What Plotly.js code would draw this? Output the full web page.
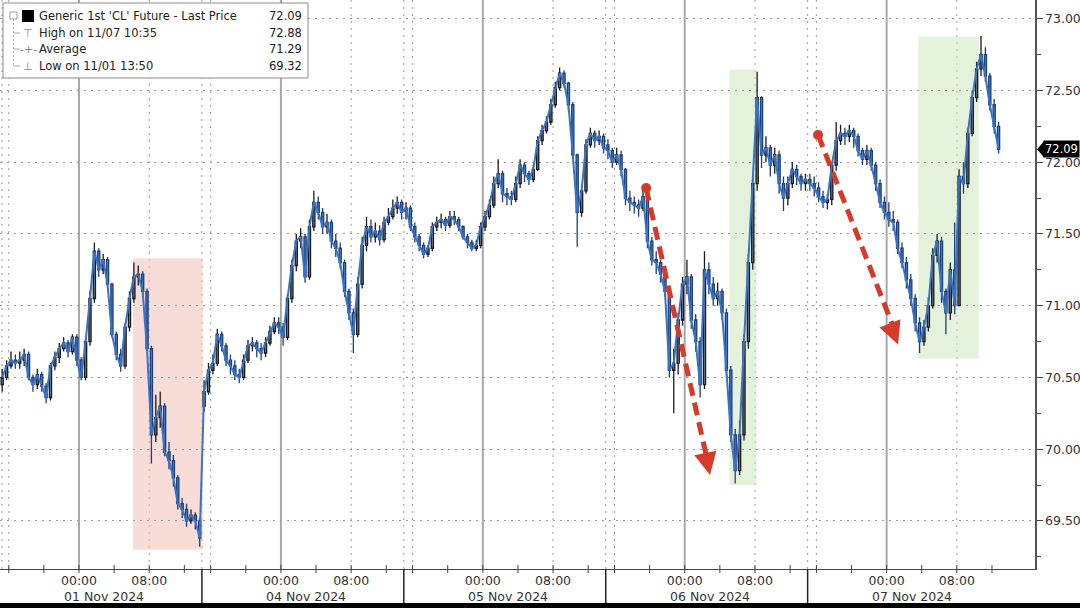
<!DOCTYPE html>
<html><head><meta charset="utf-8">
<script src="https://cdn.plot.ly/plotly-3.0.1.min.js"></script>
<style>html,body{margin:0;padding:0;background:#fff;}#chart{width:1080px;height:608px;}</style>
</head><body><div id="chart"></div>
<script>
// ---- data (30-minute bars, each trading session 15:00 -> 14:00, 23 hours) ----
const sessionDates = ['01 Nov 2024','04 Nov 2024','05 Nov 2024','06 Nov 2024','07 Nov 2024'];
const sessionOpen = [70.45, 70.30, 71.66, 72.12, 71.88];
const timeTickLabels = ['00:00','08:00'];

const close1 = [70.50,70.58,70.62,70.60,70.62,70.66,70.50,70.45,70.52,70.44,70.36,70.58,70.64,70.70,70.74,70.68,70.78,70.62,70.50,70.75,71.05,71.38,71.25,71.32,71.15,70.80,70.66,70.58,70.85,71.05,71.20,71.22,71.10,70.70,70.10,70.22,70.30,69.98,69.92,69.80,69.62,69.58,69.50,69.54,69.50,69.38];
const high1  = [70.56,70.62,70.68,70.66,70.68,70.70,70.68,70.52,70.56,70.54,70.46,70.60,70.68,70.74,70.78,70.76,70.80,70.80,70.64,70.78,71.10,71.44,71.40,71.36,71.34,71.16,70.82,70.70,70.88,71.10,71.30,71.28,71.24,71.12,70.72,70.38,70.40,70.32,70.05,69.96,69.82,69.66,69.62,69.58,69.56,69.52];
const low1   = [70.40,70.48,70.56,70.56,70.56,70.58,70.48,70.40,70.42,70.40,70.32,70.34,70.55,70.60,70.68,70.64,70.66,70.58,70.48,70.48,70.72,71.02,71.20,71.22,71.12,70.78,70.62,70.54,70.56,70.82,71.02,71.14,71.06,70.68,69.90,70.05,70.15,69.95,69.86,69.74,69.58,69.52,69.46,69.48,69.44,69.32];

const close2 = [70.40,70.55,70.60,70.80,70.72,70.62,70.58,70.52,70.50,70.62,70.72,70.74,70.70,70.67,70.74,70.82,70.88,70.85,70.78,71.05,71.28,71.45,71.48,71.20,71.55,71.72,71.65,71.55,71.58,71.45,71.40,71.30,71.10,70.95,70.80,71.15,71.42,71.55,71.48,71.52,71.46,71.58,71.62,71.68,71.72,71.65];
const high2  = [70.48,70.60,70.66,70.84,70.82,70.74,70.66,70.62,70.56,70.66,70.76,70.78,70.76,70.74,70.78,70.86,70.92,70.92,70.88,71.08,71.32,71.50,71.54,71.50,71.60,71.80,71.76,71.68,71.64,71.60,71.50,71.44,71.32,71.12,70.98,71.20,71.48,71.62,71.60,71.58,71.56,71.62,71.68,71.74,71.76,71.74];
const low2   = [70.26,70.38,70.52,70.58,70.68,70.58,70.52,70.48,70.46,70.48,70.60,70.68,70.64,70.62,70.64,70.72,70.80,70.80,70.72,70.76,71.02,71.24,71.40,71.16,71.18,71.52,71.60,71.50,71.50,71.40,71.34,71.26,71.06,70.90,70.67,70.78,71.12,71.38,71.44,71.44,71.42,71.44,71.56,71.60,71.64,71.60];

const close3 = [71.68,71.55,71.48,71.42,71.36,71.40,71.55,71.58,71.60,71.56,71.62,71.60,71.55,71.48,71.44,71.40,71.42,71.55,71.62,71.70,71.85,71.92,71.78,71.76,71.74,71.85,71.98,71.92,71.88,71.95,72.15,72.22,72.28,72.40,72.52,72.62,72.55,72.40,72.05,71.65,71.80,72.12,72.20,72.15,72.18,72.10];
const high3  = [71.72,71.70,71.58,71.50,71.44,71.42,71.58,71.62,71.64,71.62,71.66,71.66,71.62,71.56,71.50,71.46,71.46,71.58,71.66,71.74,71.90,72.02,71.94,71.82,71.80,71.90,72.02,72.00,71.94,71.98,72.18,72.26,72.32,72.44,72.56,72.66,72.64,72.56,72.42,72.06,71.84,72.16,72.24,72.22,72.22,72.20];
const low3   = [71.60,71.52,71.44,71.38,71.33,71.34,71.38,71.52,71.54,71.52,71.54,71.56,71.52,71.46,71.40,71.38,71.38,71.40,71.52,71.60,71.68,71.82,71.72,71.70,71.70,71.72,71.82,71.86,71.84,71.86,71.94,72.12,72.20,72.26,72.38,72.50,72.52,72.36,72.02,71.41,71.62,71.78,72.10,72.10,72.12,72.06];

const close4 = [72.08,72.00,72.05,71.95,71.75,71.72,71.70,71.68,71.76,71.45,71.32,71.30,71.22,71.10,70.55,70.60,70.90,71.15,71.20,70.90,70.75,70.45,71.25,71.15,71.05,71.10,70.95,70.55,70.10,69.85,70.10,70.75,71.30,71.85,72.45,72.05,72.10,71.98,72.05,71.85,71.75,71.85,71.95,71.90,71.85,71.88];
const high4  = [72.16,72.10,72.10,72.08,71.96,71.80,71.76,71.74,71.80,71.78,71.48,71.38,71.32,71.24,71.12,70.70,70.95,71.20,71.32,71.22,70.94,70.78,71.38,71.30,71.20,71.16,71.12,70.98,70.58,70.14,70.20,70.80,71.36,71.90,72.63,72.46,72.18,72.12,72.10,72.08,71.90,71.90,72.00,71.98,71.92,71.92];
const low4   = [72.02,71.96,71.98,71.90,71.70,71.66,71.64,71.62,71.66,71.40,71.28,71.22,71.16,71.06,70.50,70.25,70.52,70.86,71.08,70.84,70.68,70.36,70.42,71.08,71.00,71.00,70.90,70.50,70.05,69.76,69.82,70.06,70.70,71.25,71.80,71.96,72.00,71.90,71.92,71.78,71.66,71.70,71.82,71.84,71.80,71.80];

const close5 = [71.85,71.82,71.76,71.72,71.74,71.98,72.15,72.20,72.18,72.22,72.18,72.08,72.02,72.08,71.98,71.85,71.72,71.65,71.60,71.58,71.40,71.30,71.18,71.05,70.88,70.75,70.85,71.00,71.35,71.45,71.10,70.95,71.25,71.00,71.90,71.85,72.20,72.45,72.65,72.75,72.60,72.40,72.25,72.09];
const high5  = [71.92,71.90,71.86,71.80,71.78,72.00,72.28,72.26,72.24,72.26,72.24,72.20,72.10,72.12,72.10,72.00,71.88,71.76,71.72,71.66,71.60,71.44,71.34,71.22,71.08,70.92,70.90,71.06,71.40,71.50,71.48,71.12,71.30,71.58,71.95,72.00,72.24,72.50,72.70,72.88,72.80,72.62,72.44,72.28];
const low5   = [71.80,71.76,71.72,71.68,71.67,71.70,71.94,72.12,72.12,72.14,72.10,72.04,71.98,71.98,71.94,71.80,71.68,71.60,71.55,71.52,71.36,71.26,71.12,71.00,70.82,70.67,70.72,70.82,70.98,71.30,71.02,70.80,70.90,70.94,71.00,71.78,71.82,72.18,72.42,72.60,72.56,72.36,72.20,72.06];

const legendLabels = ["Generic 1st 'CL' Future - Last Price", "High on 11/07 10:35", "Average", "Low on 11/01 13:50"];
const legendValues = ["72.09", "72.88", "71.29", "69.32"];
const lastPrice = 72.09;

// ---- build series ----
const SESSION_H = 23, BAR_H = 0.5;
const sessions = [[close1,high1,low1],[close2,high2,low2],[close3,high3,low3],[close4,high4,low4],[close5,high5,low5]];
const X=[],O=[],H=[],L=[],C=[];
sessions.forEach((s,k)=>{
  s[0].forEach((c,i)=>{
    X.push(SESSION_H*k + BAR_H*i + BAR_H/2);
    O.push(i===0 ? sessionOpen[k] : s[0][i-1]);
    H.push(s[1][i]); L.push(s[2][i]); C.push(c);
  });
});

const PW = 1035, PH = 569; // plot area pixels
const px = v => v/PW, py = v => 1 - v/PH;
const FONT = 'DejaVu Sans';

const shapes = [];
const annotations = [];

// highlight boxes
shapes.push({type:'rect',xref:'x',yref:'y',x0:15.15,x1:23.1,y0:69.30,y1:71.33,fillcolor:'rgba(242,196,188,0.6)',line:{width:0},layer:'below'});
shapes.push({type:'rect',xref:'x',yref:'y',x0:83.1,x1:86.2,y0:69.75,y1:72.645,fillcolor:'rgba(210,234,196,0.6)',line:{width:0},layer:'below'});
shapes.push({type:'rect',xref:'x',yref:'y',x0:104.6,x1:111.5,y0:70.63,y1:72.875,fillcolor:'rgba(210,234,196,0.6)',line:{width:0},layer:'below'});

// vertical grid
const dotted = {color:'#9a9a9a',width:1,dash:'2px,5px'};
for (let k=0;k<5;k++){
  const b = SESSION_H*k;
  shapes.push({type:'line',xref:'x',yref:'paper',x0:b+9,x1:b+9,y0:0,y1:1,line:{color:'#a8a8a8',width:2},layer:'below'});
  shapes.push({type:'line',xref:'x',yref:'paper',x0:b+17,x1:b+17,y0:0,y1:1,line:dotted,layer:'below'});
  shapes.push({type:'line',xref:'x',yref:'paper',x0:b+1,x1:b+1,y0:0,y1:1,line:dotted,layer:'below'});
  if (k>0){
    shapes.push({type:'line',xref:'x',yref:'paper',x0:b,x1:b,y0:0,y1:1,line:dotted,layer:'below'});
    shapes.push({type:'line',xref:'x',yref:'paper',x0:b,x1:b,y0:0,y1:-34/PH,line:{color:'#222',width:1.5}});
  }
  for (let j=0;j<6;j++){
    const t = b+1+4*j;
    shapes.push({type:'line',xref:'x',yref:'paper',x0:t,x1:t,y0:-4/PH,y1:4/PH,line:{color:'#444',width:1}});
  }
  annotations.push({xref:'x',yref:'paper',x:b+9,y:-27/PH,xanchor:'left',yanchor:'middle',xshift:-17,
    text:sessionDates[k],showarrow:false,font:{family:FONT,size:12.5,color:'#333'}});
}
shapes.push({type:'line',xref:'paper',yref:'paper',x0:0.002,x1:0.002,y0:0,y1:1,line:dotted,layer:'below'});

// bottom black strip
shapes.push({type:'rect',xref:'paper',yref:'paper',x0:-0.01,x1:1.06,y0:-34/PH,y1:-45/PH,fillcolor:'#000',line:{width:0}});

// red dashed arrows
const red = '#d63a2b';
const arrows = [
  {x0:73.6,y0:71.82,x1:80.55,y1:69.93,tx:80.88,ty:69.82,ax:-3,ay:-14},
  {x0:93.19,y0:72.19,x1:101.9,y1:70.83,tx:102.3,ty:70.73,ax:-5,ay:-13}
];
arrows.forEach(a=>{
  shapes.push({type:'line',xref:'x',yref:'y',x0:a.x0,y0:a.y0,x1:a.x1,y1:a.y1,line:{color:red,width:5,dash:'13px,7px'}});
  shapes.push({type:'circle',xref:'x',yref:'y',xsizemode:'pixel',ysizemode:'pixel',xanchor:a.x0,yanchor:a.y0,x0:-5,x1:5,y0:-5,y1:5,fillcolor:red,line:{width:0}});
  annotations.push({xref:'x',yref:'y',x:a.tx,y:a.ty,ax:a.ax,ay:a.ay,text:'',showarrow:true,arrowhead:2,arrowsize:0.9,arrowwidth:5,arrowcolor:red,standoff:0});
});

// legend box
shapes.push({type:'rect',xref:'paper',yref:'paper',x0:px(3),x1:px(308),y0:py(3),y1:py(78),fillcolor:'#fff',line:{color:'#8a8a8a',width:1}});
shapes.push({type:'rect',xref:'paper',yref:'paper',x0:px(22),x1:px(34),y0:py(10),y1:py(22),fillcolor:'#000',line:{width:0}});
shapes.push({type:'rect',xref:'paper',yref:'paper',x0:px(10),x1:px(17),y0:py(12),y1:py(19),fillcolor:'#fff',line:{color:'#999',width:1}});
shapes.push({type:'line',xref:'paper',yref:'paper',x0:px(13.5),x1:px(13.5),y0:py(19),y1:py(66),line:{color:'#aaa',width:1,dash:'2px,2px'}});
[33,49,66].forEach(r=>shapes.push({type:'line',xref:'paper',yref:'paper',x0:px(13.5),x1:px(20),y0:py(r),y1:py(r),line:{color:'#aaa',width:1}}));
const rows = [16,33,49,66];
const glyphs = ['', '⊤', '‐+‐', '⊥'];
rows.forEach((r,i)=>{
  annotations.push({xref:'paper',yref:'paper',x:px(37),y:py(r),xanchor:'left',yanchor:'middle',showarrow:false,
    text:legendLabels[i],font:{family:FONT,size:11.5,color:'#222'}});
  annotations.push({xref:'paper',yref:'paper',x:px(304),y:py(r),xanchor:'right',yanchor:'middle',showarrow:false,
    text:legendValues[i],font:{family:FONT,size:11.5,color:'#222'}});
  if (glyphs[i]) annotations.push({xref:'paper',yref:'paper',x:px(28),y:py(r),xanchor:'center',yanchor:'middle',showarrow:false,
    text:glyphs[i],font:{family:FONT,size:11,color:'#888'}});
});

// last price tag
annotations.push({xref:'paper',yref:'y',x:1,y:lastPrice,xanchor:'left',yanchor:'middle',xshift:8,showarrow:false,
  text:lastPrice.toFixed(2),bgcolor:'#000',font:{family:FONT,size:11.5,color:'#fff'},borderpad:1});
shapes.push({type:'path',xref:'paper',yref:'y',xsizemode:'pixel',ysizemode:'pixel',xanchor:1,yanchor:lastPrice,
  path:'M 2 0 L 9 8 L 9 -8 Z',fillcolor:'#000',line:{width:0}});

const tickvals=[], ticktext=[];
for (let k=0;k<5;k++){ tickvals.push(SESSION_H*k+9, SESSION_H*k+17); ticktext.push(timeTickLabels[0], timeTickLabels[1]); }

const traces = [
  {type:'scatter',mode:'lines',x:X,y:C,line:{color:'#3a72c4',width:2},hoverinfo:'skip',showlegend:false},
  {type:'candlestick',x:X,open:O,high:H,low:L,close:C,showlegend:false,whiskerwidth:0,
   increasing:{line:{color:'#1a1a1a',width:1.3},fillcolor:'#6f7f98'},
   decreasing:{line:{color:'#1c3f78',width:1.3},fillcolor:'#4a82d0'}}
];

const layout = {
  width:1080,height:608,margin:{l:0,r:45,t:0,b:39},
  paper_bgcolor:'#fff',plot_bgcolor:'#fff',showlegend:false,
  xaxis:{range:[0,117.9],rangeslider:{visible:false},showgrid:false,zeroline:false,
    tickmode:'array',tickvals:tickvals,ticktext:ticktext,ticks:'',
    showline:true,linecolor:'#444',linewidth:1.2,
    tickfont:{family:FONT,size:12.5,color:'#333'}},
  yaxis:{side:'right',range:[69.165,73.13],tickmode:'linear',tick0:69.5,dtick:0.5,tickformat:'.2f',
    showgrid:true,gridcolor:'#9a9a9a',griddash:'2px,5px',gridwidth:1,zeroline:false,
    ticks:'outside',ticklen:6,tickcolor:'#444',showline:true,linecolor:'#555',linewidth:1.5,
    minor:{dtick:0.25,tick0:69.5,ticks:'outside',ticklen:4,tickcolor:'#444',showgrid:false},
    tickfont:{family:FONT,size:12.5,color:'#333'}},
  shapes:shapes,annotations:annotations
};
Plotly.newPlot('chart',traces,layout,{displayModeBar:false,staticPlot:true});
</script></body></html>
